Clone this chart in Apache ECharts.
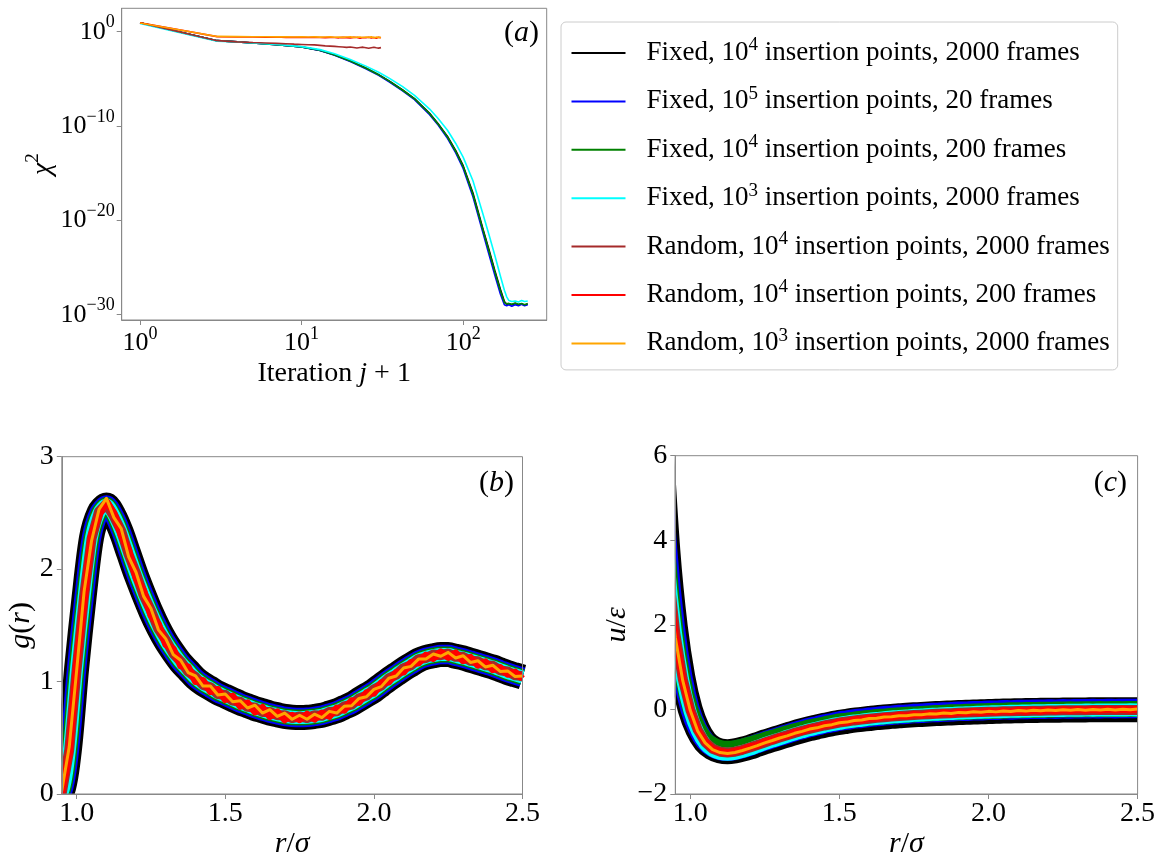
<!DOCTYPE html>
<html><head><meta charset="utf-8">
<script src="https://cdn.jsdelivr.net/npm/echarts@6.0.0/dist/echarts.min.js"></script>
<style>html,body{margin:0;padding:0;background:#fff}#chart{width:1159px;height:857px}</style>
</head><body><div id="chart"></div>
<script>
const FONT = 'Liberation Serif';

// ---------- Legend / series descriptors ----------
const methods = ['Fixed', 'Fixed', 'Fixed', 'Fixed', 'Random', 'Random', 'Random'];
const insertExp = [4, 5, 4, 3, 4, 4, 3];
const frames = [2000, 20, 200, 2000, 2000, 200, 2000];
const seriesNames = methods.map((m, i) => m + ', 10^' + insertExp[i] + ' insertion points, ' + frames[i] + ' frames');

// ---------- Panel (a): chi^2 vs iteration (values stored as log10 chi^2) ----------
const iterFixed = [1, 3, 4, 5, 7, 10, 13, 16, 20, 25, 30, 35, 42, 50, 62, 70, 80, 90, 100, 115, 133, 145, 157, 170, 180, 186, 192, 200, 210, 220, 230, 240, 251];
const logChiBlack = [0.95, -0.95, -1.08, -1.2, -1.38, -1.62, -1.98, -2.45, -3.1, -3.85, -4.55, -5.25, -6.15, -7.1, -8.65, -9.75, -11.1, -12.6, -14.2, -17.1, -21.0, -23.2, -25.3, -27.3, -28.6, -28.9, -28.85, -28.95, -28.8, -28.95, -28.85, -29.0, -28.85];
const logChiBlue = [0.95, -0.95, -1.08, -1.2, -1.39, -1.63, -2.0, -2.5, -3.15, -3.92, -4.62, -5.33, -6.25, -7.2, -8.8, -9.9, -11.3, -12.85, -14.5, -17.5, -21.4, -23.7, -25.8, -27.8, -28.95, -29.05, -28.95, -29.1, -28.95, -29.05, -28.9, -29.05, -28.95];
const logChiGreen = [0.95, -0.95, -1.08, -1.2, -1.38, -1.61, -1.97, -2.46, -3.11, -3.87, -4.57, -5.27, -6.18, -7.13, -8.7, -9.8, -11.17, -12.7, -14.3, -17.25, -21.1, -23.35, -25.45, -27.45, -28.7, -28.85, -28.8, -28.9, -28.75, -28.9, -28.8, -28.95, -28.8];
const logChiCyan = [0.88, -1.0, -1.1, -1.2, -1.36, -1.58, -1.9, -2.33, -2.95, -3.65, -4.3, -4.95, -5.8, -6.75, -8.2, -9.2, -10.45, -11.85, -13.3, -15.8, -19.4, -21.6, -23.7, -25.9, -27.4, -28.1, -28.5, -28.6, -28.55, -28.65, -28.5, -28.6, -28.55];
const iterRandom = [1, 3, 4, 5, 6, 7, 8, 9, 10, 11, 12, 13, 14, 15, 16, 17, 18, 19, 20, 21, 22, 23, 24, 25, 26, 27, 28, 29, 30, 31];
const logChiBrown = [0.95, -0.95, -1.08, -1.15, -1.2, -1.24, -1.28, -1.32, -1.35, -1.38, -1.4, -1.45, -1.5, -1.53, -1.56, -1.59, -1.62, -1.66, -1.62, -1.67, -1.73, -1.68, -1.64, -1.7, -1.76, -1.7, -1.65, -1.71, -1.74, -1.69];
const logChiRed = [0.95, -0.52, -0.55, -0.56, -0.58, -0.57, -0.6, -0.59, -0.6, -0.62, -0.6, -0.61, -0.63, -0.6, -0.62, -0.65, -0.6, -0.63, -0.67, -0.6, -0.62, -0.69, -0.61, -0.64, -0.58, -0.66, -0.62, -0.7, -0.6, -0.65];
const logChiOrange = [0.93, -0.5, -0.52, -0.54, -0.53, -0.55, -0.54, -0.56, -0.55, -0.57, -0.55, -0.58, -0.56, -0.55, -0.59, -0.56, -0.6, -0.57, -0.55, -0.6, -0.58, -0.56, -0.62, -0.57, -0.6, -0.55, -0.63, -0.58, -0.6, -0.62];

// ---------- Panels (b), (c): common r/sigma grid ----------
const rGrid = [0.9, 0.925, 0.95, 0.975, 1.0, 1.025, 1.05, 1.075, 1.1,
  1.125, 1.15, 1.175, 1.2, 1.225, 1.25, 1.275, 1.3,
  1.325, 1.35, 1.375, 1.4, 1.425, 1.45, 1.475, 1.5,
  1.525, 1.55, 1.575, 1.6, 1.625, 1.65, 1.675, 1.7,
  1.725, 1.75, 1.775, 1.8, 1.825, 1.85, 1.875, 1.9,
  1.925, 1.95, 1.975, 2.0, 2.025, 2.05, 2.075, 2.1,
  2.125, 2.15, 2.175, 2.2, 2.225, 2.25, 2.275, 2.3,
  2.325, 2.35, 2.375, 2.4, 2.425, 2.45, 2.475, 2.5];

// (b) g(r)
const gFixed = [0.00, 0.00, 0.01, 0.38, 1.12, 1.75, 2.28, 2.50, 2.57,
  2.48, 2.33, 2.14, 1.95, 1.78, 1.62, 1.48, 1.36,
  1.26, 1.17, 1.10, 1.03, 0.98, 0.94, 0.90, 0.87,
  0.84, 0.81, 0.785, 0.76, 0.74, 0.72, 0.705, 0.69,
  0.683, 0.68, 0.682, 0.69, 0.70, 0.72, 0.74, 0.77,
  0.80, 0.84, 0.88, 0.92, 0.97, 1.02, 1.065, 1.11,
  1.15, 1.19, 1.215, 1.23, 1.24, 1.24, 1.225, 1.21,
  1.19, 1.17, 1.15, 1.13, 1.105, 1.08, 1.06, 1.04];
const gBrown = [0.00, 0.00, 0.01, 0.39, 1.11, 1.76, 2.27, 2.51, 2.58,
  2.47, 2.34, 2.13, 1.96, 1.77, 1.63, 1.47, 1.37,
  1.25, 1.18, 1.09, 1.04, 0.97, 0.95, 0.89, 0.88,
  0.83, 0.82, 0.775, 0.77, 0.73, 0.73, 0.70, 0.70,
  0.675, 0.69, 0.675, 0.70, 0.695, 0.73, 0.735, 0.78,
  0.795, 0.85, 0.875, 0.93, 0.965, 1.03, 1.06, 1.12,
  1.145, 1.20, 1.21, 1.24, 1.235, 1.25, 1.22, 1.22,
  1.185, 1.18, 1.145, 1.14, 1.10, 1.09, 1.055, 1.05];
const gRed = [0.00, 0.00, 0.02, 0.36, 1.15, 1.72, 2.31, 2.48, 2.60,
  2.50, 2.30, 2.17, 1.92, 1.81, 1.59, 1.51, 1.33,
  1.29, 1.14, 1.13, 1.00, 1.01, 0.91, 0.93, 0.84,
  0.87, 0.78, 0.81, 0.73, 0.77, 0.69, 0.73, 0.66,
  0.70, 0.66, 0.71, 0.665, 0.72, 0.69, 0.765, 0.745,
  0.83, 0.815, 0.90, 0.895, 0.99, 0.995, 1.08, 1.085,
  1.17, 1.165, 1.235, 1.205, 1.265, 1.215, 1.255, 1.185,
  1.215, 1.145, 1.175, 1.105, 1.125, 1.065, 1.085, 1.025];
const gOrange = [0.00, 0.00, 0.03, 0.42, 1.10, 1.80, 2.25, 2.53, 2.63,
  2.46, 2.36, 2.11, 1.97, 1.76, 1.65, 1.46, 1.38,
  1.24, 1.19, 1.08, 1.05, 0.96, 0.96, 0.88, 0.89,
  0.82, 0.83, 0.765, 0.79, 0.72, 0.75, 0.69, 0.72,
  0.665, 0.70, 0.665, 0.71, 0.68, 0.735, 0.72, 0.78,
  0.785, 0.85, 0.865, 0.93, 0.955, 1.03, 1.05, 1.12,
  1.135, 1.20, 1.20, 1.245, 1.225, 1.26, 1.21, 1.23,
  1.17, 1.185, 1.13, 1.145, 1.09, 1.095, 1.045, 1.05];

// (c) u/epsilon
const uBlack = [6.60, 3.75, 1.95, 0.77, 0.00, -0.47, -0.76, -0.91, -0.98,
  -1.00, -0.98, -0.94, -0.89, -0.83, -0.77, -0.715, -0.66,
  -0.605, -0.55, -0.50, -0.455, -0.415, -0.375, -0.34, -0.305,
  -0.28, -0.255, -0.235, -0.215, -0.195, -0.18, -0.165, -0.15,
  -0.14, -0.128, -0.118, -0.108, -0.098, -0.09, -0.082, -0.075,
  -0.068, -0.062, -0.056, -0.05, -0.045, -0.04, -0.036, -0.032,
  -0.028, -0.025, -0.022, -0.02, -0.018, -0.016, -0.014, -0.012,
  -0.011, -0.01, -0.009, -0.008, -0.007, -0.006, -0.005, -0.005];
const uBlue = [6.30, 3.70, 1.93, 0.76, 0.00, -0.46, -0.75, -0.90, -0.97,
  -0.99, -0.97, -0.925, -0.87, -0.81, -0.745, -0.69, -0.635,
  -0.58, -0.525, -0.475, -0.425, -0.39, -0.345, -0.315, -0.275,
  -0.255, -0.225, -0.21, -0.185, -0.17, -0.15, -0.14, -0.12,
  -0.115, -0.098, -0.092, -0.078, -0.073, -0.06, -0.057, -0.045,
  -0.043, -0.032, -0.031, -0.02, -0.02, -0.01, -0.011, -0.002,
  -0.003, 0.005, 0.003, 0.01, 0.007, 0.014, 0.011, 0.018,
  0.014, 0.02, 0.016, 0.022, 0.018, 0.024, 0.02, 0.025];
const uGreen = [6.20, 3.60, 1.88, 0.74, 0.02, -0.42, -0.70, -0.84, -0.91,
  -0.93, -0.915, -0.88, -0.83, -0.775, -0.72, -0.67, -0.615,
  -0.565, -0.515, -0.47, -0.425, -0.39, -0.35, -0.32, -0.285,
  -0.265, -0.24, -0.22, -0.2, -0.18, -0.17, -0.15, -0.14,
  -0.125, -0.118, -0.105, -0.098, -0.085, -0.08, -0.068, -0.065,
  -0.055, -0.05, -0.042, -0.04, -0.032, -0.03, -0.022, -0.022,
  -0.015, -0.014, -0.008, -0.008, -0.002, -0.004, 0.002, 0.0,
  0.005, 0.003, 0.008, 0.005, 0.01, 0.007, 0.012, 0.01];
const uCyan = [6.10, 3.55, 1.85, 0.70, -0.06, -0.53, -0.82, -0.97, -1.04,
  -1.06, -1.04, -0.995, -0.94, -0.875, -0.81, -0.75, -0.695,
  -0.635, -0.58, -0.53, -0.48, -0.44, -0.4, -0.36, -0.33,
  -0.3, -0.275, -0.255, -0.23, -0.215, -0.195, -0.18, -0.165,
  -0.155, -0.14, -0.132, -0.12, -0.112, -0.1, -0.095, -0.085,
  -0.08, -0.072, -0.066, -0.06, -0.055, -0.05, -0.044, -0.042,
  -0.036, -0.034, -0.03, -0.028, -0.024, -0.024, -0.02, -0.02,
  -0.016, -0.017, -0.013, -0.015, -0.011, -0.013, -0.01, -0.012];
const uBrown = [5.90, 3.40, 1.80, 0.72, 0.00, -0.48, -0.77, -0.93, -1.0,
  -1.02, -1.0, -0.955, -0.9, -0.84, -0.78, -0.72, -0.665,
  -0.61, -0.555, -0.505, -0.46, -0.42, -0.38, -0.345, -0.31,
  -0.285, -0.26, -0.24, -0.22, -0.2, -0.185, -0.17, -0.155,
  -0.145, -0.132, -0.123, -0.112, -0.104, -0.095, -0.088, -0.08,
  -0.074, -0.067, -0.062, -0.056, -0.052, -0.046, -0.043, -0.038,
  -0.035, -0.031, -0.029, -0.026, -0.024, -0.022, -0.02, -0.019,
  -0.017, -0.016, -0.015, -0.014, -0.013, -0.012, -0.012, -0.011];
const uRed = [5.80, 3.30, 1.76, 0.70, -0.01, -0.50, -0.76, -0.94, -0.99,
  -1.03, -0.99, -0.96, -0.88, -0.85, -0.76, -0.73, -0.65,
  -0.62, -0.54, -0.515, -0.445, -0.43, -0.365, -0.355, -0.295,
  -0.295, -0.245, -0.25, -0.205, -0.21, -0.17, -0.18, -0.14,
  -0.155, -0.118, -0.135, -0.1, -0.115, -0.08, -0.1, -0.066,
  -0.085, -0.053, -0.072, -0.043, -0.062, -0.034, -0.052, -0.026,
  -0.044, -0.019, -0.036, -0.013, -0.03, -0.008, -0.025, -0.004,
  -0.02, 0.0, -0.017, 0.002, -0.014, 0.004, -0.012, 0.005];
const uOrange = [5.60, 3.20, 1.70, 0.68, -0.02, -0.51, -0.79, -0.95, -1.02,
  -1.04, -1.02, -0.97, -0.915, -0.855, -0.79, -0.735, -0.675,
  -0.625, -0.565, -0.52, -0.465, -0.435, -0.385, -0.36, -0.315,
  -0.3, -0.26, -0.25, -0.215, -0.21, -0.18, -0.175, -0.15,
  -0.15, -0.125, -0.128, -0.105, -0.11, -0.085, -0.095, -0.07,
  -0.08, -0.057, -0.068, -0.046, -0.058, -0.036, -0.048, -0.028,
  -0.04, -0.02, -0.033, -0.014, -0.027, -0.008, -0.022, -0.004,
  -0.018, 0.0, -0.015, 0.003, -0.012, 0.006, -0.01, 0.008];

// Tick values
const ticksIterA = [1, 10, 100];
const ticksChiA = [1e-30, 1e-20, 1e-10, 1];
const ticksR = [1.0, 1.5, 2.0, 2.5];

// ---------- styling / layout ----------
const colors = ['#000000', '#0000ff', '#008000', '#00ffff', '#a52a2a', '#ff0000', '#ffa500'];
const widthsBC = [25, 19.5, 16, 13, 10, 7, 3];
const SPINE = '#888888';
const GA = { left: 121.7, top: 8.3, width: 425, height: 311.7 };
const GB = { left: 61.8, top: 456.7, width: 460.7, height: 337.3 };
const GC = { left: 675.3, top: 455.7, width: 462.3, height: 338.3 };

const chiSets = [
  [iterFixed, logChiBlack], [iterFixed, logChiBlue], [iterFixed, logChiGreen], [iterFixed, logChiCyan],
  [iterRandom, logChiBrown], [iterRandom, logChiRed], [iterRandom, logChiOrange]
];
const gSets = [gFixed, gFixed, gFixed, gFixed, gBrown, gRed, gOrange];
const uSets = [uBlack, uBlue, uGreen, uCyan, uBrown, uRed, uOrange];

const MINUS = '\u2212';
function powLabel(v) {
  const e = Math.round(Math.log10(v));
  return '{b|10}{s|' + (e < 0 ? MINUS + (-e) : e) + '}';
}
const powRich = {
  b: { fontFamily: FONT, fontSize: 26, lineHeight: 36, color: '#000' },
  s: { fontFamily: FONT, fontSize: 18, lineHeight: 14, verticalAlign: 'top', color: '#000' }
};

function baseAxis(extra) {
  return Object.assign({
    z: 6,
    axisLine: { show: true, onZero: false, lineStyle: { color: SPINE, width: 1 } },
    axisTick: { show: true, inside: false, length: 5, lineStyle: { color: SPINE } },
    splitLine: { show: false },
    nameLocation: 'middle'
  }, extra);
}

const series = [];
chiSets.forEach((s, i) => {
  series.push({
    type: 'line', name: seriesNames[i], xAxisIndex: 0, yAxisIndex: 0,
    data: s[0].map((x, k) => [x, Math.pow(10, s[1][k])]),
    showSymbol: false, symbol: 'none', color: colors[i],
    lineStyle: { width: 1.6, color: colors[i] }, animation: false, z: 2
  });
});
gSets.forEach((arr, i) => {
  series.push({
    type: 'line', name: seriesNames[i], xAxisIndex: 1, yAxisIndex: 1,
    data: rGrid.map((r, k) => [r, arr[k]]),
    showSymbol: false, symbol: 'none', color: colors[i], smooth: i < 4 ? 0.3 : false,
    lineStyle: { width: widthsBC[i], color: colors[i], join: 'round', cap: 'butt' }, animation: false, clip: true
  });
});
uSets.forEach((arr, i) => {
  series.push({
    type: 'line', name: seriesNames[i], xAxisIndex: 2, yAxisIndex: 2,
    data: rGrid.map((r, k) => [r, arr[k]]),
    showSymbol: false, symbol: 'none', color: colors[i], smooth: i < 4 ? 0.3 : false,
    lineStyle: { width: widthsBC[i], color: colors[i], join: 'round', cap: 'butt' }, animation: false, clip: true
  });
});

function legendFormatter(name) {
  const m = name.match(/^(.*?10)\^(\d+)(.*)$/);
  return '{f|' + m[1] + '}{s|' + m[2] + '}{n|' + m[3] + '}';
}

const labelRich = (size) => ({
  n: { fontFamily: FONT, fontSize: size, color: '#000' },
  i: { fontFamily: FONT, fontSize: size, fontStyle: 'italic', color: '#000' }
});
const panelRich = { p: { fontFamily: FONT, fontSize: 30, color: '#000' }, i: { fontFamily: FONT, fontSize: 30, fontStyle: 'italic', color: '#000' } };

// white masks: the library widens its line clip by half the stroke width; trim the thick strokes at the frame
const M = 14;
function maskRect(x, y, w, h) {
  return { type: 'rect', z: 4, silent: true, shape: { x: x, y: y, width: w, height: h }, style: { fill: '#ffffff' } };
}
const masks = [
  maskRect(GB.left - M - 0.5, GB.top - M, M, GB.height + 2 * M),
  maskRect(GB.left - M, GB.top + GB.height + 0.5, GB.width + 2 * M, M),
  maskRect(GC.left - M - 0.5, GC.top - M, M, GC.height + 2 * M),
  maskRect(GC.left - M, GC.top + GC.height + 0.5, GC.width + 2 * M, M),
  maskRect(GC.left - M, GC.top - M - 0.5, GC.width + 2 * M, M)
];

const gridCommon = { show: true, borderColor: SPINE, borderWidth: 1, containLabel: false, outerBoundsMode: 'none', z: 5 };

const option = {
  backgroundColor: '#ffffff',
  animation: false,
  grid: [Object.assign({}, GA, gridCommon), Object.assign({}, GB, gridCommon), Object.assign({}, GC, gridCommon)],
  xAxis: [
    baseAxis({
      gridIndex: 0, type: 'log', logBase: 10, min: 0.77, max: 329,
      axisTick: { show: true, length: 5, lineStyle: { color: SPINE }, customValues: ticksIterA },
      axisLabel: { customValues: ticksIterA, formatter: powLabel, rich: powRich, margin: 5, color: '#000' },
      name: '{n|Iteration }{i|j}{n| + 1}', nameGap: 40,
      nameTextStyle: { rich: labelRich(28) }
    }),
    baseAxis({
      gridIndex: 1, type: 'value', min: 0.95, max: 2.5,
      axisTick: { show: true, length: 5, lineStyle: { color: SPINE }, customValues: ticksR },
      axisLabel: { customValues: ticksR, formatter: v => v.toFixed(1), fontFamily: FONT, fontSize: 28, color: '#000', margin: 6 },
      name: '{i|r}{n|/}{i|σ}', nameGap: 30, nameTextStyle: { rich: labelRich(30) }
    }),
    baseAxis({
      gridIndex: 2, type: 'value', min: 0.95, max: 2.5,
      axisTick: { show: true, length: 5, lineStyle: { color: SPINE }, customValues: ticksR },
      axisLabel: { customValues: ticksR, formatter: v => v.toFixed(1), fontFamily: FONT, fontSize: 28, color: '#000', margin: 6 },
      name: '{i|r}{n|/}{i|σ}', nameGap: 30, nameTextStyle: { rich: labelRich(30) }
    })
  ],
  yAxis: [
    baseAxis({
      gridIndex: 0, type: 'log', logBase: 10, min: Math.pow(10, -30.56), max: Math.pow(10, 2.48),
      axisTick: { show: true, length: 5, lineStyle: { color: SPINE }, customValues: ticksChiA },
      axisLabel: { customValues: ticksChiA, formatter: powLabel, rich: powRich, margin: 7, color: '#000' },
      name: '{i|χ}{s|2}', nameRotate: 90, nameGap: 60,
      nameTextStyle: { rich: {
        i: { fontFamily: FONT, fontSize: 28, fontStyle: 'italic', lineHeight: 38, color: '#000' },
        s: { fontFamily: FONT, fontSize: 19, lineHeight: 14, verticalAlign: 'top', color: '#000' } } }
    }),
    baseAxis({
      gridIndex: 1, type: 'value', min: 0, max: 3, interval: 1,
      axisLabel: { fontFamily: FONT, fontSize: 28, color: '#000', margin: 8 },
      name: '{i|g}{n|(}{i|r}{n|)}', nameRotate: 90, nameGap: 26, nameTextStyle: { rich: labelRich(30) }
    }),
    baseAxis({
      gridIndex: 2, type: 'value', min: -2, max: 6, interval: 2,
      axisLabel: { fontFamily: FONT, fontSize: 28, color: '#000', margin: 8, formatter: v => (v < 0 ? MINUS + (-v) : String(v)) },
      name: '{i|u}{n|/}{i|ε}', nameRotate: 90, nameGap: 43, nameTextStyle: { rich: labelRich(30) }
    })
  ],
  legend: {
    orient: 'vertical', left: 561, top: 22,
    padding: [14, 8, 13, 10.5],
    itemWidth: 54, itemHeight: 2, itemGap: 17.9,
    icon: 'rect', selectedMode: false,
    backgroundColor: 'rgba(255,255,255,0.8)', borderColor: '#cccccc', borderWidth: 1, borderRadius: 5,
    data: seriesNames,
    formatter: legendFormatter,
    textStyle: {
      rich: {
        f: { fontFamily: FONT, fontSize: 27, lineHeight: 34, color: '#000', padding: [0, 0, 0, 16] },
        n: { fontFamily: FONT, fontSize: 27, lineHeight: 34, color: '#000' },
        s: { fontFamily: FONT, fontSize: 19, lineHeight: 14, verticalAlign: 'top', color: '#000' }
      }
    }
  },
  graphic: masks.concat([
    { type: 'text', z: 7, right: 620, top: 18, style: { text: '{p|(}{i|a}{p|)}', rich: panelRich } },
    { type: 'text', z: 7, right: 645, top: 468, style: { text: '{p|(}{i|b}{p|)}', rich: panelRich } },
    { type: 'text', z: 7, right: 32, top: 468, style: { text: '{p|(}{i|c}{p|)}', rich: panelRich } }
  ]),
  series: series
};

const chart = echarts.init(document.getElementById('chart'), null, { renderer: 'canvas' });
chart.setOption(option);
</script></body></html>
